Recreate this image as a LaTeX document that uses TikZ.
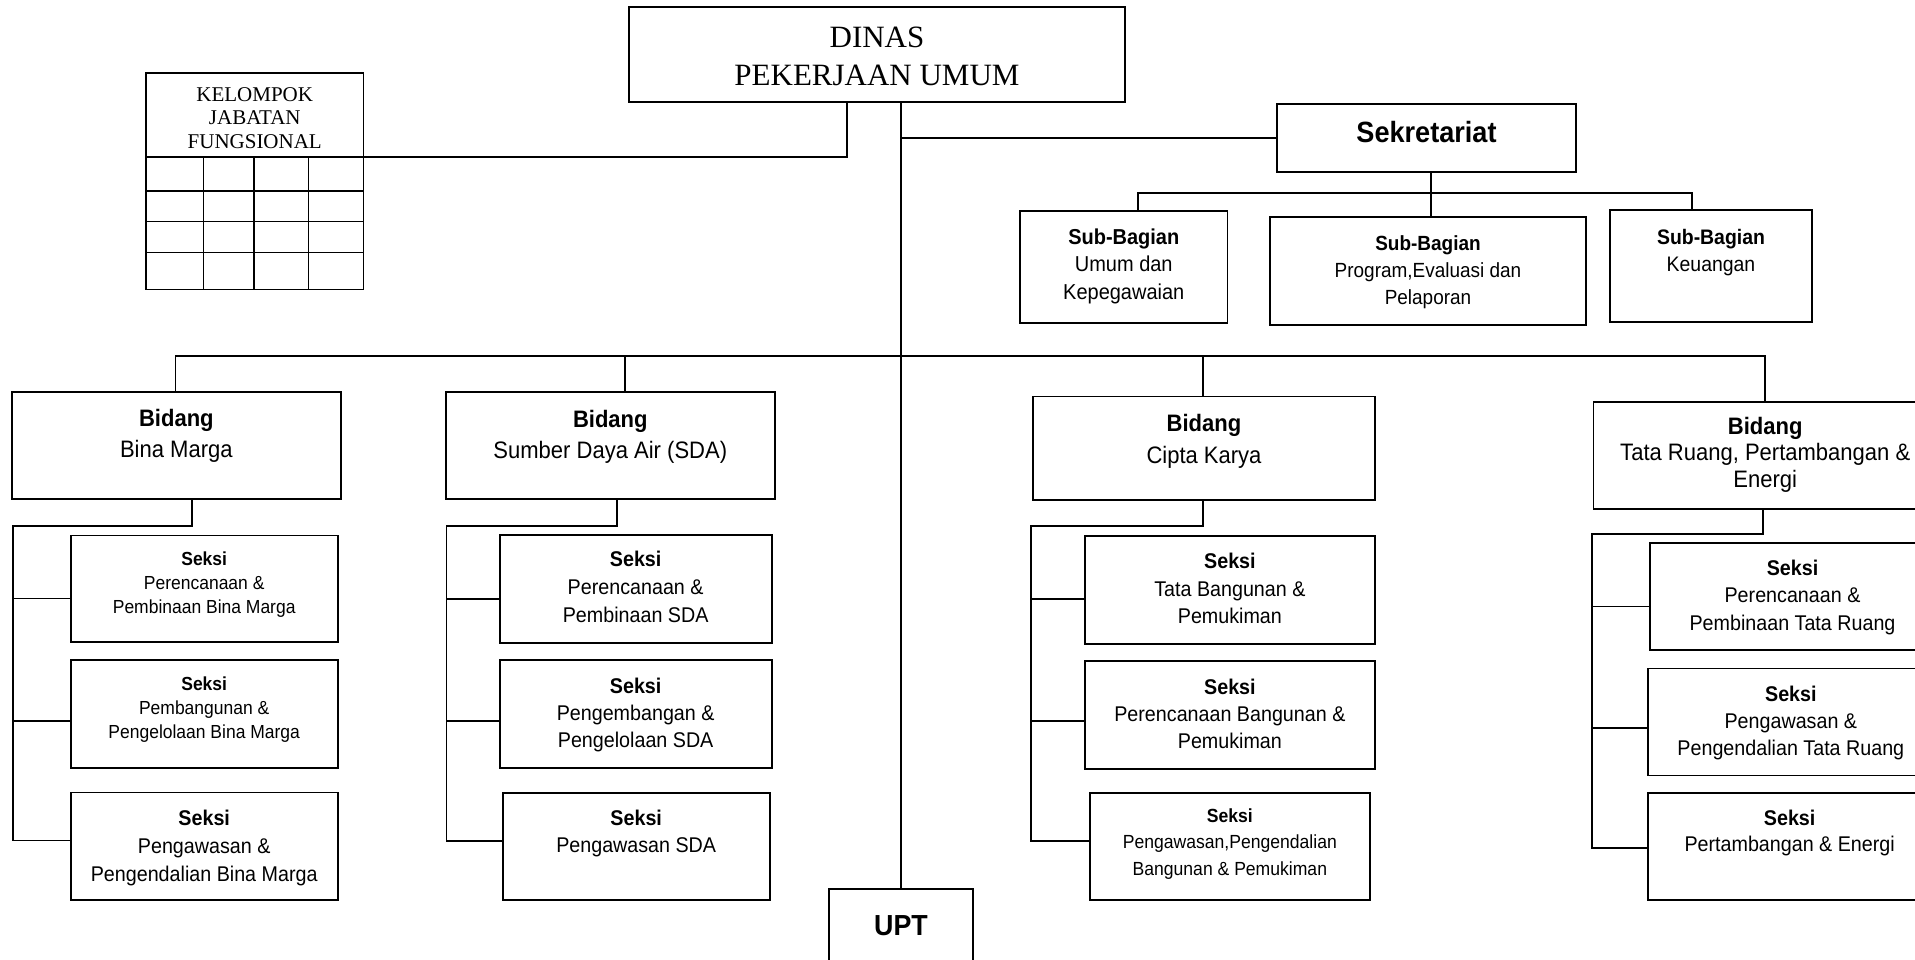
\documentclass[tikz,border=0pt]{standalone}
\usepackage{fontspec}
\setmainfont{Liberation Serif}
\newfontfamily\orgsans[FakeStretch=0.925]{Liberation Sans}

% centred lines of a box; every row gets the same strut height
\newcommand\rowstack[1]{\halign{\hfil\vrule height0.8em width0pt##\hfil\cr#1\crcr}}
% \orgbox{name}{x1}{y1}{x2}{y2}{first baseline y}{font setup}{rows}
\newcommand\orgbox[8]{%
  \node[orgnode, minimum width={(#4-#2)*1pt}, minimum height={(#5-#3)*1pt}]
    (#1) at ({(#2+#4)/2},{(#3+#5)/2})
    {\vbox to \dimexpr#5pt-#3pt\relax{#7\kern\dimexpr#6pt-#3pt-0.8em\relax\rowstack{#8}\vss}};}
% connectors from a Bidang down to its three Seksi boxes
% \branches{prefix}{drop x}{knee y}{spine x}{y1}{y2}{y3}
\newcommand\branches[7]{%
  \coordinate (#1knee) at (#2,#3);
  \coordinate (#1top) at (#4,#3);
  \coordinate (#1b1) at (#4,#5);
  \coordinate (#1b2) at (#4,#6);
  \coordinate (#1b3) at (#4,#7);
  \draw[conn] (#1.south -| #1knee) -- (#1knee) -- (#1top) -- (#1b3) -- (#1b3 -| #13.west);
  \draw[conn] (#1b1) -- (#1b1 -| #11.west);
  \draw[conn] (#1b2) -- (#1b2 -| #12.west);}

\tikzset{
  orgnode/.style={draw, rectangle, line width=1.8pt, inner sep=0pt, outer sep=0pt, font=\orgsans},
  conn/.style={draw, line width=1.8pt},
  gridline/.style={draw, line width=1.8pt}
}

\begin{document}
\begin{tikzpicture}[x=1pt,y=-1pt]
\useasboundingbox (0,0) rectangle (1915,959);
\fill[white] (0,0) rectangle (1915,959);

% head office and functional group table
\orgbox{dinas}{629}{7}{1125}{102}{47}{\rmfamily\fontsize{31}{38}\selectfont}{DINAS\cr PEKERJAAN UMUM}
\orgbox{kjf}{146}{73}{363.5}{289.5}{101}{\rmfamily\fontsize{21}{23.7}\selectfont}{KELOMPOK\cr JABATAN\cr FUNGSIONAL}
\foreach \y in {157,191,221.5,252.5}
  \draw[gridline] (kjf.west |- 0,\y) -- (kjf.east |- 0,\y);
\foreach \x in {203.5,254,308.5}
  \draw[gridline] (\x,157) -- (kjf.south -| \x,0);

% secretariat and its sub-sections
\orgbox{sek}{1277}{104}{1576}{172}{142.5}{\fontsize{29.3}{34}\selectfont}{\bfseries Sekretariat}
\orgbox{sb1}{1020}{211}{1227.5}{323}{244}{\fontsize{21.6}{27.5}\selectfont}{\bfseries Sub-Bagian\cr Umum dan\cr Kepegawaian}
\orgbox{sb2}{1270}{217}{1586}{325}{250.7}{\fontsize{20.5}{26.8}\selectfont}{\bfseries Sub-Bagian\cr Program,Evaluasi dan\cr Pelaporan}
\orgbox{sb3}{1610}{210}{1812}{322}{244}{\fontsize{21}{27.7}\selectfont}{\bfseries Sub-Bagian\cr Keuangan}

% departments
\orgbox{bm}{12}{392}{340.7}{499}{426.7}{\fontsize{23.8}{31.2}\selectfont}{\bfseries Bidang\cr Bina Marga}
\orgbox{sda}{446}{392}{774.6}{499}{427.5}{\fontsize{23.8}{31}\selectfont}{\bfseries Bidang\cr Sumber Daya Air (SDA)}
\orgbox{ck}{1033}{396.5}{1375}{500}{431.7}{\fontsize{23.8}{31.3}\selectfont}{\bfseries Bidang\cr Cipta Karya}
\orgbox{tr}{1593.5}{402}{1937}{509}{434}{\fontsize{23.8}{26.8}\selectfont}{\bfseries Bidang\cr Tata Ruang, Pertambangan \&\cr Energi}

% sections
\orgbox{bm1}{70.7}{535.5}{337.7}{642.3}{565.3}{\fontsize{18.9}{24.3}\selectfont}{\bfseries Seksi\cr Perencanaan \&\cr Pembinaan Bina Marga}
\orgbox{bm2}{70.7}{660}{337.7}{768}{690.3}{\fontsize{18.9}{24.3}\selectfont}{\bfseries Seksi\cr Pembangunan \&\cr Pengelolaan Bina Marga}
\orgbox{bm3}{70.7}{792.5}{337.7}{899.6}{825}{\fontsize{21.3}{28}\selectfont}{\bfseries Seksi\cr Pengawasan \&\cr Pengendalian Bina Marga}

\orgbox{sda1}{499.7}{535}{771.6}{643}{566.5}{\fontsize{21.3}{27.8}\selectfont}{\bfseries Seksi\cr Perencanaan \&\cr Pembinaan SDA}
\orgbox{sda2}{499.7}{660}{771.6}{768}{693.3}{\fontsize{21.3}{27.2}\selectfont}{\bfseries Seksi\cr Pengembangan \&\cr Pengelolaan SDA}
\orgbox{sda3}{502.7}{792.6}{769.7}{900}{825}{\fontsize{21.3}{27.8}\selectfont}{\bfseries Seksi\cr Pengawasan SDA}

\orgbox{ck1}{1084.8}{536}{1375}{643.8}{568.4}{\fontsize{21.3}{27.7}\selectfont}{\bfseries Seksi\cr Tata Bangunan \&\cr Pemukiman}
\orgbox{ck2}{1084.8}{661}{1375}{769}{694}{\fontsize{21.3}{27.3}\selectfont}{\bfseries Seksi\cr Perencanaan Bangunan \&\cr Pemukiman}
\orgbox{ck3}{1089.7}{792.6}{1370}{900}{822.6}{\fontsize{19}{26.2}\selectfont}{\bfseries Seksi\cr Pengawasan,Pengendalian\cr Bangunan \& Pemukiman}

\orgbox{tr1}{1650}{543.3}{1935}{649.8}{575.4}{\fontsize{21.3}{27.4}\selectfont}{\bfseries Seksi\cr Perencanaan \&\cr Pembinaan Tata Ruang}
\orgbox{tr2}{1647.7}{668.4}{1934}{775.5}{701.2}{\fontsize{21.3}{27}\selectfont}{\bfseries Seksi\cr Pengawasan \&\cr Pengendalian Tata Ruang}
\orgbox{tr3}{1648.3}{793}{1931}{899.6}{825.6}{\fontsize{21.3}{26}\selectfont}{\bfseries Seksi\cr Pertambangan \& Energi}

% technical unit
\orgbox{upt}{829}{889}{973}{1010}{935}{\fontsize{29}{32}\selectfont}{\bfseries UPT}

% connectors
\draw[conn] (dinas.south -| 847,0) |- (kjf.east |- 0,157);
\draw[conn] (dinas.south -| upt.north) -- (upt.north);
\draw[conn] (sek.west -| upt.north) -- (sek.west);

\coordinate (sdrop) at (1431,193);
\draw[conn] (sek.south -| sdrop) -- (sb2.north -| sdrop);
\coordinate (sbusL) at (1138,193);
\coordinate (sbusR) at (1692,193);
\draw[conn] (sb1.north -| sbusL) -- (sbusL) -- (sbusR) -- (sb3.north -| sbusR);

\coordinate (bbusL) at (175.5,356);
\coordinate (bbusS) at (624.6,356);
\coordinate (bbusC) at (1203,356);
\coordinate (bbusR) at (1765,356);
\draw[conn] (bm.north -| bbusL) -- (bbusL) -- (bbusR) -- (tr.north -| bbusR);
\draw[conn] (bbusS) -- (sda.north -| bbusS);
\draw[conn] (bbusC) -- (ck.north -| bbusC);

\branches{bm}{192.3}{526}{12.7}{598.5}{720.7}{840.5}
\branches{sda}{616.6}{526}{446.4}{598.7}{720.6}{841}
\branches{ck}{1203}{526}{1031}{598.7}{720.6}{841}
\branches{tr}{1763.3}{534.2}{1592.3}{606.5}{728.2}{848.2}
\end{tikzpicture}
\end{document}
